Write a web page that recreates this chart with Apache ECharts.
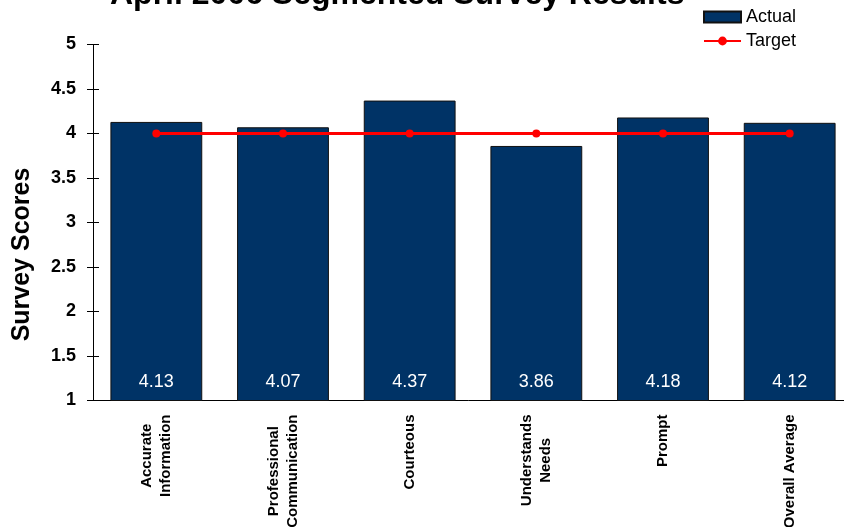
<!DOCTYPE html>
<html>
<head>
<meta charset="utf-8">
<script src="https://cdn.jsdelivr.net/npm/echarts@6/dist/echarts.min.js"></script>
<style>html,body{margin:0;padding:0;background:#fff;}#c{width:844px;height:527px;}</style>
</head>
<body>
<div id="c"></div>
<script>
const titleText = 'April 2006 Segmented Survey Results';
const categories = ['Accurate\nInformation', 'Professional\nCommunication', 'Courteous', 'Understands\nNeeds', 'Prompt', 'Overall Average'];
const actual = [4.13, 4.07, 4.37, 3.86, 4.18, 4.12];
const target = [4, 4, 4, 4, 4, 4];
const yMin = 1, yMax = 5, yStep = 0.5;

const FONT = '"Liberation Sans", Arial, sans-serif';
const chart = echarts.init(document.getElementById('c'), null, {renderer: 'canvas'});
const yBase = {
  type: 'value', min: yMin, max: yMax, interval: yStep, splitLine: {show: false}
};
chart.setOption({
  animation: false,
  backgroundColor: '#fff',
  title: {
    text: titleText, left: 110, top: -21, padding: 0,
    textStyle: {fontFamily: FONT, fontSize: 32, fontWeight: 'bold', color: '#000'}
  },
  legend: {
    orient: 'vertical', left: 703, top: 8, padding: 0,
    itemWidth: 37, itemHeight: 11, itemGap: 6,
    textStyle: {fontFamily: FONT, fontSize: 18, color: '#000'},
    data: [{name: 'Actual', icon: 'rect'}, {name: 'Target'}]
  },
  grid: {left: 93, top: 44.5, right: -9, bottom: 126.5, containLabel: false, outerBoundsMode: 'none'},
  xAxis: {
    type: 'category', data: categories,
    axisLine: {lineStyle: {color: '#000', width: 1}},
    axisTick: {show: false},
    axisLabel: {
      interval: 0, rotate: 90, margin: 14,
      formatter: v => v.split('\n').map(s => '{c|' + s + '}').join('\n'),
      rich: {c: {align: 'center', fontFamily: FONT, fontSize: 15, fontWeight: 'bold', color: '#000', lineHeight: 19}}
    }
  },
  yAxis: [
    Object.assign({}, yBase, {
      name: 'Survey Scores', nameLocation: 'middle', nameGap: 58,
      nameTextStyle: {fontFamily: FONT, fontSize: 25, fontWeight: 'bold', color: '#000', padding: [0, 64, 0, 0]},
      axisLine: {show: true, lineStyle: {color: '#000', width: 1}},
      axisTick: {show: true, inside: false, length: 6, lineStyle: {color: '#000'}},
      axisLabel: {margin: 17, fontFamily: FONT, fontSize: 18, fontWeight: 'bold', color: '#000',
        formatter: v => String(v)}
    }),
    Object.assign({}, yBase, {
      position: 'left',
      axisLine: {show: false},
      axisTick: {show: true, inside: true, length: 6, lineStyle: {color: '#000'}},
      axisLabel: {show: false}
    })
  ],
  series: [
    {
      name: 'Actual', type: 'bar', data: actual, yAxisIndex: 0,
      barCategoryGap: '27.5%',
      itemStyle: {color: '#003366', borderColor: '#111', borderWidth: 1},
      label: {show: true, position: 'insideBottom', distance: 10, color: '#fff',
        fontFamily: FONT, fontSize: 18, formatter: p => p.value.toFixed(2)}
    },
    {
      name: 'Target', type: 'line', data: target, yAxisIndex: 0, z: 5,
      symbol: 'circle', symbolSize: 8,
      lineStyle: {color: '#ff0000', width: 3},
      itemStyle: {color: '#ff0000'}
    }
  ]
});
</script>
</body>
</html>
